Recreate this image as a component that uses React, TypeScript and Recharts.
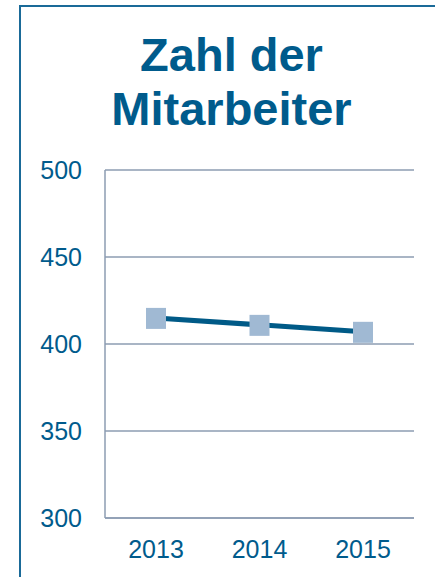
import { LineChart, Line, XAxis, YAxis, CartesianGrid } from 'recharts';

const years = ['2013', '2014', '2015'];
const employees = [415, 411, 407];
const yTicks = [300, 350, 400, 450, 500];

const data = years.map((year, i) => ({ year, employees: employees[i] }));

const FONT = '"Liberation Sans", Arial, sans-serif';
const BLUE = '#005b8c';
const GRID = '#8d9db2';

function SquareDot(props: any) {
  const { cx, cy, index } = props;
  if (cx == null || cy == null) return null;
  return <rect key={index} x={cx - 10} y={cy - 10} width={20} height={21} fill="#a0b9d3" />;
}

export default function App() {
  return (
    <div style={{ position: 'absolute', left: 0, top: 0, width: 435, height: 577, background: '#fff', overflow: 'hidden' }}>
      <div
        style={{
          position: 'absolute',
          left: 19,
          top: 5,
          width: 440,
          height: 600,
          borderLeft: '2.5px solid #1a6a98',
          borderTop: '2px solid #1a6a98',
        }}
      />
      <div
        style={{
          position: 'absolute',
          left: 0,
          top: 28,
          width: 463,
          textAlign: 'center',
          fontFamily: FONT,
          fontWeight: 'bold',
          fontSize: 47,
          lineHeight: '54px',
          color: BLUE,
        }}
      >
        Zahl der
        <br />
        Mitarbeiter
      </div>
      <div style={{ position: 'absolute', left: 0, top: 0 }}>
        <LineChart width={435} height={577} data={data} margin={{ top: 170, right: 21, left: 20, bottom: 19 }}>
          <CartesianGrid vertical={false} stroke={GRID} strokeWidth={1.5} />
          <XAxis
            dataKey="year"
            padding={{ left: 51, right: 51 }}
            height={40}
            axisLine={{ stroke: GRID, strokeWidth: 1.5 }}
            tickLine={false}
            tickSize={0}
            tickMargin={22}
            tick={{ fontSize: 25, fill: BLUE, fontFamily: FONT }}
          />
          <YAxis
            domain={[300, 500]}
            ticks={yTicks}
            width={85}
            axisLine={{ stroke: GRID, strokeWidth: 1.5 }}
            tickLine={false}
            tickSize={0}
            tickMargin={23}
            tick={{ fontSize: 25, fill: BLUE, fontFamily: FONT }}
          />
          <Line
            type="linear"
            dataKey="employees"
            stroke="#005a87"
            strokeWidth={5}
            dot={<SquareDot />}
            activeDot={false}
            isAnimationActive={false}
          />
        </LineChart>
      </div>
    </div>
  );
}
